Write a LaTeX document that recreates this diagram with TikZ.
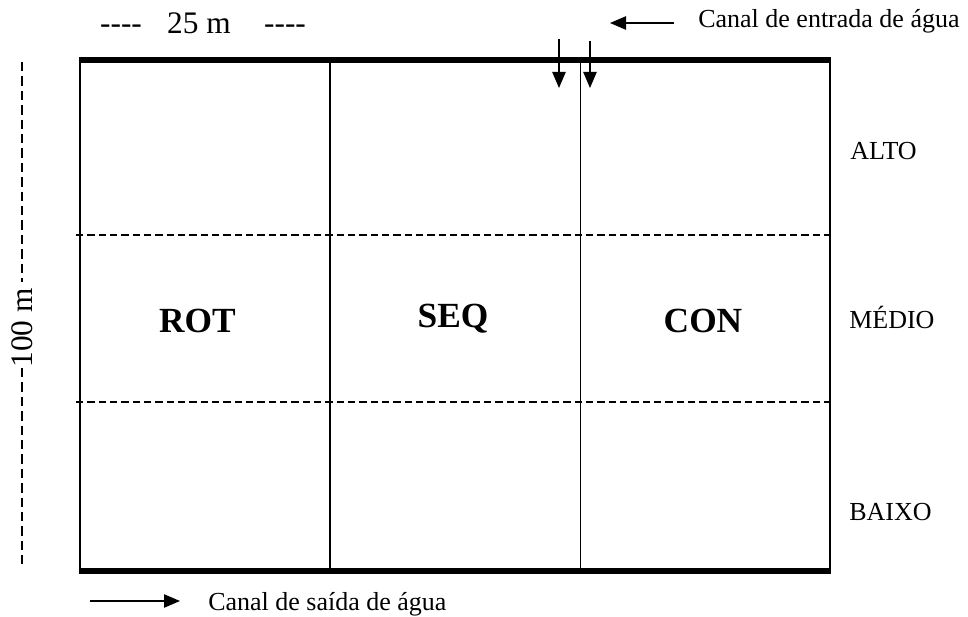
\documentclass[tikz,border=0pt]{standalone}
\usepackage{fontspec}
\setmainfont{Liberation Serif}
\usetikzlibrary{arrows.meta}
\tikzset{
  lbl/.style={font=\fontsize{19.5pt}{22pt}\selectfont, inner sep=0pt, anchor=base west},
  big/.style={font=\fontsize{23.5pt}{26pt}\selectfont, inner sep=0pt},
  plot/.style={font=\fontsize{26.5pt}{30pt}\selectfont\bfseries, inner sep=0pt, anchor=base},
  dimdash/.style={line width=1.5pt, dash pattern=on 7pt off 3.8pt},
  zone/.style={line width=0.9pt, dash pattern=on 5.5pt off 3pt},
  flow/.style={line width=1pt, -{Triangle[width=10pt,length=12pt]}},
}
\begin{document}
\begin{tikzpicture}[x=0.75pt,y=-0.75pt]
\useasboundingbox (0,0) rectangle (968,617);
% corner coordinates
\coordinate (tl) at (80,60);
\coordinate (tr) at (830,60);
\coordinate (bl) at (80,571);
\coordinate (br) at (830,571);
% zone dashed lines
\coordinate (z1l) at (76,235);
\coordinate (z1r) at (830,235);
\coordinate (z2l) at (76,402);
\coordinate (z2r) at (830,402);
\draw[zone] (z1l) -- (z1r);
\draw[zone] (z2l) -- (z2r);
% verticals
\draw[line width=1.9pt] (tl) -- (bl);
\draw[line width=1.9pt] (tr) -- (br);
\coordinate (v1t) at (330,60);
\coordinate (v1b) at (330,571);
\coordinate (v2t) at (580.5,60);
\coordinate (v2b) at (580.5,571);
\draw[line width=1.5pt] (v1t) -- (v1b);
\draw[line width=1.4pt] (v2t) -- (v2b);
% thick top and bottom
\draw[line width=3.8pt] ([xshift=-0.7pt]tl) -- ([xshift=0.7pt]tr);
\draw[line width=3.8pt] ([xshift=-0.7pt]bl) -- ([xshift=0.7pt]br);
% inlet arrows
\coordinate (a1s) at (559,39);
\coordinate (a1e) at (559,88);
\coordinate (a2s) at (590,41);
\coordinate (a2e) at (590,88);
\draw[flow] (a1s) -- (a1e);
\draw[flow] (a2s) -- (a2e);
% top label
\coordinate (ins) at (674,23);
\coordinate (ine) at (610,23);
\draw[flow] (ins) -- (ine);
\node[lbl] (inlbl) at (698,28) {Canal de entrada de água};
% bottom label
\coordinate (outs) at (90,601);
\coordinate (oute) at (180,601);
\draw[flow] (outs) -- (oute);
\node[lbl] (outlbl) at (208,610) {Canal de saída de água};
% 25 m
\node[big, anchor=base] (w) at (199,34) {25 m};
\node[big, anchor=base] (wl) at (121,34) {-{}-{}-{}-};
\node[big, anchor=base] (wr) at (285,34) {-{}-{}-{}-};
% 100 m
\node[big, rotate=90, anchor=base] (h) at (32,328) {100 m};
\coordinate (d1t) at (22,62);
\coordinate (d1b) at (22,282);
\coordinate (d2t) at (22,368);
\coordinate (d2b) at (22,564);
\draw[dimdash] (d1t) -- (d1b);
\draw[dimdash] (d2t) -- (d2b);
% treatments
\node[plot] (rot) at (197.5,332) {ROT};
\node[plot] (seq) at (453,327) {SEQ};
\node[plot] (con) at (703,332) {CON};
% zones
\node[lbl] (alto) at (850,159) {ALTO};
\node[lbl] (medio) at (849,328) {MÉDIO};
\node[lbl] (baixo) at (849,520) {BAIXO};
\end{tikzpicture}
\end{document}
